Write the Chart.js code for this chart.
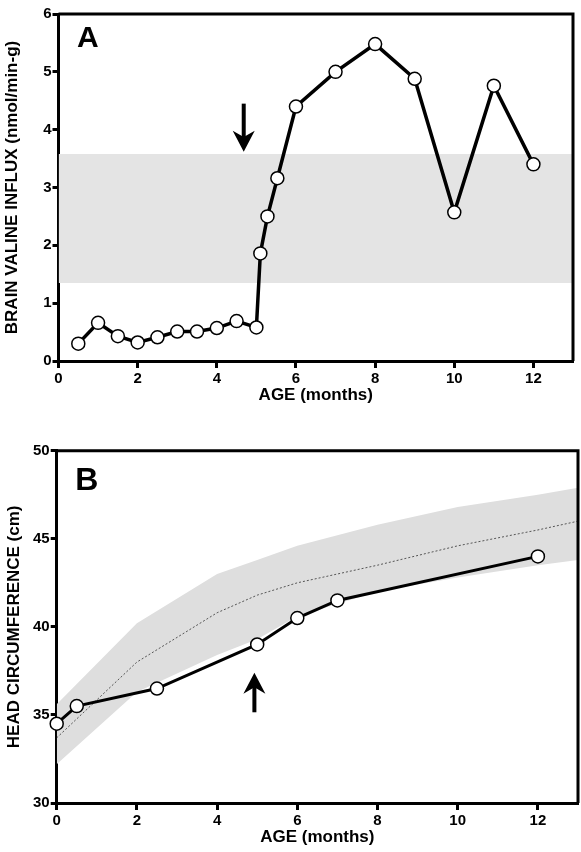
<!DOCTYPE html>
<html>
<head>
<meta charset="utf-8">
<script src="https://cdn.jsdelivr.net/npm/chart.js@4.4.0/dist/chart.umd.min.js"></script>
<style>
  html, body { margin: 0; padding: 0; background: #fff; overflow: hidden; }
  #wrap { position: relative; width: 581px; height: 852px; overflow: hidden; }
  #chartA { position: absolute; left: 0; top: 0; }
  #chartB { position: absolute; left: 0; top: 425px; }
</style>
</head>
<body>
<div id="wrap">
  <canvas id="chartA" width="581" height="410"></canvas>
  <canvas id="chartB" width="586" height="427"></canvas>
</div>
<script>
// Panel A - brain valine influx
const ageA = [0.5, 1, 1.5, 2, 2.5, 3, 3.5, 4, 4.5, 5, 5.1, 5.28, 5.53, 6, 7, 8, 9, 10, 11, 12];
const influxA = [0.30, 0.66, 0.43, 0.32, 0.41, 0.51, 0.51, 0.57, 0.69, 0.58, 1.86, 2.50, 3.16, 4.40, 5.00, 5.48, 4.88, 2.57, 4.76, 3.40];
const bandAgeA = [0, 13];
const bandLowA = [1.35, 1.35];
const bandHighA = [3.58, 3.58];
const arrowA = { x: 4.68, from: 4.45, to: 3.62 };
const xTicks = [0, 2, 4, 6, 8, 10, 12];
const yTicksA = [0, 1, 2, 3, 4, 5, 6];

// Panel B - head circumference
const ageB = [0, 0.5, 2.5, 5, 6, 7, 12];
const headB = [34.5, 35.5, 36.5, 39.0, 40.5, 41.5, 44.0];
const normAgeB = [0, 2, 4, 5, 6, 8, 10, 12, 13];
const normUpperB = [35.6, 40.2, 43.0, 43.8, 44.6, 45.8, 46.8, 47.5, 47.9];
const normMedianB = [33.7, 38.0, 40.8, 41.8, 42.5, 43.5, 44.6, 45.5, 46.0];
const normLowerB = [32.2, 36.3, 38.4, 39.3, 40.6, 42.0, 42.8, 43.5, 43.8];
const arrowB = { x: 4.93, from: 35.15, to: 37.4 };
const yTicksB = [30, 35, 40, 45, 50];

Chart.defaults.font.family = "'Liberation Sans', Arial, sans-serif";
Chart.defaults.font.weight = 'bold';
Chart.defaults.color = '#000';

const pts = (xs, ys) => xs.map((v, i) => ({ x: v, y: ys[i] }));

// frame, arrow and panel letter
const decorations = {
    id: 'decorations',
    afterDatasetsDraw(chart, args, opts) {
        const { ctx, chartArea: a, scales: { x, y } } = chart;
        ctx.save();
        ctx.strokeStyle = '#000';
        ctx.lineWidth = 3;
        ctx.beginPath();
        ctx.moveTo(a.left, a.top);
        ctx.lineTo(a.right, a.top);
        ctx.lineTo(a.right, a.bottom);
        ctx.stroke();

        // arrow
        const ax = x.getPixelForValue(opts.arrow.x);
        const y0 = y.getPixelForValue(opts.arrow.from);
        const y1 = y.getPixelForValue(opts.arrow.to);
        const dir = Math.sign(y1 - y0);
        const headLen = 21, headW = 11;
        ctx.lineWidth = 4;
        ctx.beginPath();
        ctx.moveTo(ax, y0);
        ctx.lineTo(ax, y1 - dir * headLen * 0.6);
        ctx.stroke();
        ctx.fillStyle = '#000';
        ctx.beginPath();
        ctx.moveTo(ax, y1);
        ctx.lineTo(ax - headW, y1 - dir * headLen);
        ctx.lineTo(ax, y1 - dir * headLen * 0.7);
        ctx.lineTo(ax + headW, y1 - dir * headLen);
        ctx.closePath();
        ctx.fill();

        // letter
        ctx.font = 'bold ' + opts.letterSize + "px 'Liberation Sans', Arial, sans-serif";
        ctx.textBaseline = 'alphabetic';
        ctx.textAlign = 'left';
        ctx.fillText(opts.letter, a.left + 18.5, a.top + opts.letterDy);
        ctx.restore();
    }
};

function xScale() {
    return {
        type: 'linear', min: 0, max: 13,
        afterBuildTicks: s => { s.ticks = xTicks.map(v => ({ value: v })); },
        afterFit: s => { s.height = 49; },
        grid: { drawOnChartArea: false, tickLength: 7, tickWidth: 3, tickColor: '#000' },
        border: { color: '#000', width: 3 },
        ticks: { color: '#000', font: { size: 15, weight: 'bold' }, padding: 2, maxRotation: 0 },
        title: { display: true, text: 'AGE (months)', color: '#000', font: { size: 17, weight: 'bold' }, padding: { top: 0, bottom: 4 } }
    };
}

function yScale(min, max, ticksArr, title, w, tpad) {
    return {
        type: 'linear', min: min, max: max,
        afterBuildTicks: s => { s.ticks = ticksArr.map(v => ({ value: v })); },
        afterFit: s => { s.width = w; },
        grid: { drawOnChartArea: false, tickLength: 6, tickWidth: 3, tickColor: '#000' },
        border: { color: '#000', width: 3 },
        ticks: { color: '#000', font: { size: 15, weight: 'bold' }, padding: 1 },
        title: { display: true, text: title, color: '#000', font: { size: 17, weight: 'bold' }, padding: { top: tpad, bottom: 0 } }
    };
}

const bandStyle = { pointRadius: 0, borderWidth: 0, borderColor: 'transparent', tension: 0, clip: false };

new Chart(document.getElementById('chartA'), {
    type: 'line',
    data: {
        datasets: [
            {
                label: 'Influx', data: pts(ageA, influxA), order: 0, clip: false,
                borderColor: '#000', borderWidth: 3.5, tension: 0,
                pointRadius: 6.5, pointBackgroundColor: '#fff', pointBorderColor: '#000', pointBorderWidth: 1.5
            },
            Object.assign({ label: 'low', data: pts(bandAgeA, bandLowA), order: 2, fill: false }, bandStyle),
            Object.assign({ label: 'high', data: pts(bandAgeA, bandHighA), order: 2, fill: 1, backgroundColor: '#e4e4e4' }, bandStyle)
        ]
    },
    options: {
        responsive: false, animation: false, events: [],
        layout: { padding: { top: 14, right: 1.5, bottom: 0, left: 0 } },
        plugins: {
            legend: { display: false }, tooltip: { enabled: false },
            decorations: { arrow: arrowA, letter: 'A', letterSize: 30, letterDy: 33 }
        },
        scales: {
            x: xScale(),
            y: yScale(0, 6, yTicksA, 'BRAIN VALINE INFLUX (nmol/min-g)', 58.5, 2)
        }
    },
    plugins: [decorations]
});

new Chart(document.getElementById('chartB'), {
    type: 'line',
    data: {
        datasets: [
            {
                label: 'Head', data: pts(ageB, headB), order: 0, clip: false,
                borderColor: '#000', borderWidth: 3, tension: 0,
                pointRadius: 6.5, pointBackgroundColor: '#fff', pointBorderColor: '#000', pointBorderWidth: 1.5
            },
            {
                label: 'median', data: pts(normAgeB, normMedianB), order: 1, fill: false,
                borderColor: '#555', borderWidth: 1, borderDash: [2, 2], pointRadius: 0, tension: 0
            },
            Object.assign({ label: 'lower', data: pts(normAgeB, normLowerB), order: 2, fill: false }, bandStyle),
            Object.assign({ label: 'upper', data: pts(normAgeB, normUpperB), order: 2, fill: 2, backgroundColor: '#dedede' }, bandStyle)
        ]
    },
    options: {
        responsive: false, animation: false, events: [],
        layout: { padding: { top: 25.7, right: 1.5, bottom: 0, left: 0 } },
        plugins: {
            legend: { display: false }, tooltip: { enabled: false },
            decorations: { arrow: arrowB, letter: 'B', letterSize: 32, letterDy: 39.3 }
        },
        scales: {
            x: xScale(),
            y: yScale(30, 50, yTicksB, 'HEAD CIRCUMFERENCE (cm)', 56.7, 4)
        }
    },
    plugins: [decorations]
});
</script>
</body>
</html>
